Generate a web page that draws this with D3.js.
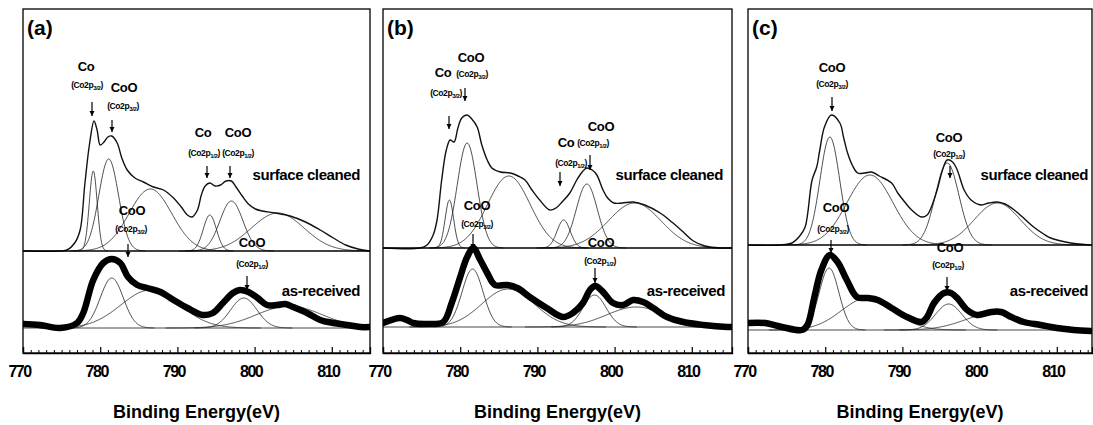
<!DOCTYPE html>
<html lang="en">
<head>
<meta charset="UTF-8">
<title>Co 2p XPS spectra</title>
<script src="https://d3js.org/d3.v7.min.js"></script>
<style>
  body { margin: 0; background: #fff; }
  svg { display: block; }
  text { font-family: "Liberation Sans", Arial, sans-serif; font-weight: bold; fill: #000; }
  .tick text { font-size: 16px; font-weight: bold; letter-spacing: -1.5px; }
</style>
</head>
<body>
<div id="chart"></div>
<script>
const panelNames = ["(a)", "(b)", "(c)"];
const majorTicks = [770, 780, 790, 800, 810];
const xLabel = "Binding Energy(eV)";
const topLabel = "surface cleaned";
const bottomLabel = "as-received";

// measured envelopes, [binding energy eV, intensity a.u.]
const cleanedA = [[770,0],[774.8,0],[775.7,1],[776.7,8],[777.4,21],[778.0,66],[778.6,106],[779.2,130],[779.6,121],[780.0,106],[780.5,109],[781.0,114],[781.5,115],[782.2,108],[782.8,93],[783.5,81],[784.5,73],[785.6,69],[786.9,64],[788.2,61],[789.5,53],[790.5,44],[791.3,36],[791.9,34],[792.6,41],[793.1,56],[793.6,65],[794.2,68],[794.9,65],[795.6,66],[796.3,70],[797.0,70],[797.6,64],[798.4,55],[799.2,47],[800.1,42],[801.0,40],[802.7,38],[804.6,35],[806.6,29],[808.5,21],[810.2,13],[811.8,6],[813.4,2],[815,0]];
const receivedA = [[770,4],[772.2,3],[774.8,0],[777.0,5],[777.8,15],[779.1,48],[780.4,65],[781.5,69],[782.6,65],[783.6,51],[784.8,43],[786.1,40],[787.8,36],[789.5,28],[791.3,20],[793.3,13],[794.6,15],[795.9,25],[797.2,35],[798.1,38],[799.2,36],[800.4,30],[801.6,23],[802.9,23],[804.0,24],[805.0,21],[806.8,15],[808.5,8],[810.2,5],[812.0,3],[813.7,1],[815,1]];

const cleanedB = [[770,0],[774.8,0],[775.7,3],[776.5,13],[777.0,28],[777.6,68],[778.2,98],[778.7,108],[779.2,106],[779.7,120],[780.2,130],[780.9,133],[781.5,129],[782.2,121],[782.8,103],[783.5,88],[784.1,80],[785.2,76],[786.5,75],[787.5,72],[788.4,68],[789.3,58],[790.3,48],[791.6,38],[792.4,40],[793.2,46],[794.2,55],[795.1,68],[795.8,76],[796.4,80],[797.1,78],[797.7,73],[798.5,58],[799.1,50],[799.9,45],[801.0,45],[802.4,46],[803.9,43],[805.9,35],[807.4,26],[808.9,16],[810.2,7],[811.7,2],[813.7,0],[815.2,0]];
const receivedB = [[770,4],[772.2,9],[773.1,7],[773.9,4],[775.7,3],[777.8,5],[778.9,24],[780.0,50],[780.9,70],[781.7,79],[782.6,67],[783.5,54],[784.5,42],[786.1,42],[787.4,39],[789.0,30],[791.2,19],[793.3,10],[794.6,14],[795.9,24],[796.8,37],[797.5,41],[798.5,35],[799.8,24],[801.1,22],[802.4,27],[803.7,25],[805.0,19],[806.8,10],[808.9,5],[811.5,2],[814.6,0],[815.2,0]];

const cleanedC = [[770,0],[774.1,0],[775.7,2],[776.7,9],[777.4,18],[778.3,65],[778.9,78],[779.3,95],[779.9,118],[780.8,130],[781.9,122],[782.4,107],[782.9,92],[783.5,80],[784.2,72],[785.1,72],[786.0,73],[787.0,69],[788.6,62],[789.4,52],[790.3,43],[791.2,35],[792.5,28],[793.2,30],[793.7,37],[794.5,55],[795.2,75],[795.8,85],[796.5,83],[797.1,75],[798.0,55],[798.9,45],[800.2,40],[801.2,42],[802.3,43],[803.3,41],[804.5,35],[805.7,27],[807.0,18],[808.3,11],[809.2,7],[811.8,2],[814.4,0]];
const receivedC = [[770,7],[772.2,7],[774.4,3],[777.0,0],[777.7,5],[778.6,33],[779.5,60],[780.6,75],[781.6,68],[782.8,50],[784.1,33],[785.5,32],[786.8,30],[788.6,22],[790.6,13],[792.5,8],[793.2,13],[794.1,27],[795.4,37],[796.3,37],[797.1,32],[798.4,20],[799.7,15],[801.5,18],[802.8,18],[804.1,13],[805.7,8],[807.9,5],[810.0,2],[812.2,0],[814.4,-1]];

// fitted components, [centre eV, height a.u., FWHM eV]
const peaksCleanedA = [[779.1,80,1.2],[781.1,92,3.0],[786.5,62,6.5],[794.2,36,2.0],[797.0,50,3.5],[803.0,38,8]];
const peaksReceivedA = [[781.5,50,3.5],[786.5,38,9],[798.6,30,4],[804.5,22,10]];
const peaksCleanedB = [[778.6,48,1.3],[780.9,105,3.0],[786.3,72,6.5],[793.4,28,2.0],[796.4,64,3.2],[802.6,45,8]];
const peaksReceivedB = [[781.6,58,3.2],[786.2,38,8],[797.4,32,3.5],[802.8,20,9]];
const peaksCleanedC = [[780.6,108,3.0],[785.8,70,7.0],[795.8,82,3.6],[802.3,42,7]];
const peaksReceivedC = [[780.5,62,3.0],[785.5,32,8],[796.0,26,4],[802.0,17,9]];

const cleaned = [cleanedA, cleanedB, cleanedC];
const received = [receivedA, receivedB, receivedC];
const peaksCleaned = [peaksCleanedA, peaksCleanedB, peaksCleanedC];
const peaksReceived = [peaksReceivedA, peaksReceivedB, peaksReceivedC];

// peak annotations: big = species, small = level; x offset from panel left, y baseline
const notes = [
  [
    {t:"Co", x:63, y:71}, {t:"(Co2p", s:"3/2", x:64, y:88},
    {t:"CoO", x:101, y:92}, {t:"(Co2p", s:"3/2", x:100, y:109},
    {t:"Co", x:180, y:137}, {t:"CoO", x:215, y:137},
    {t:"(Co2p", s:"1/2", x:181, y:156}, {t:"(Co2p", s:"1/2", x:215, y:156},
    {t:"CoO", x:109, y:215}, {t:"(Co2p", s:"3/2", x:108, y:232},
    {t:"CoO", x:229, y:247}, {t:"(Co2p", s:"1/2", x:229, y:267}
  ],
  [
    {t:"CoO", x:88, y:62}, {t:"Co", x:60, y:77}, {t:"(Co2p", s:"3/2", x:89, y:77},
    {t:"(Co2p", s:"3/2", x:63, y:96},
    {t:"CoO", x:218, y:131}, {t:"Co", x:183, y:147}, {t:"(Co2p", s:"1/2", x:210, y:146},
    {t:"(Co2p", s:"1/2", x:188, y:166},
    {t:"CoO", x:94, y:210}, {t:"(Co2p", s:"3/2", x:94, y:227},
    {t:"CoO", x:218, y:247}, {t:"(Co2p", s:"1/2", x:217, y:264}
  ],
  [
    {t:"CoO", x:84, y:72}, {t:"(Co2p", s:"3/2", x:84, y:87},
    {t:"CoO", x:201, y:142}, {t:"(Co2p", s:"1/2", x:201, y:157},
    {t:"CoO", x:88, y:212}, {t:"(Co2p", s:"3/2", x:85, y:232},
    {t:"CoO", x:202, y:252}, {t:"(Co2p", s:"1/2", x:200, y:268}
  ]
];
// arrows: [x offset, y start, y end]
const arrows = [
  [[69,102,116],[89,120,132],[184,166,178],[207,166,178],[105,244,257],[224,276,290]],
  [[82,88,101],[66,116,129],[207,155,170],[177,172,186],[90,234,249],[212,268,283]],
  [[84,97,111],[202,166,178],[83,240,253],[199,277,291]]
];

const layout = [
  {left:23, width:347, divider:251, base:328, topEnd:360, botEnd:360},
  {left:383, width:349, divider:248, base:327, topEnd:723, botEnd:725},
  {left:748, width:344, divider:245, base:330, topEnd:1088, botEnd:1088}
];
const plotTop = 9, plotBottom = 353, pxPerEv = 7.72;

const svg = d3.select("#chart").append("svg")
  .attr("width", 1093).attr("height", 425);

const defs = svg.append("defs");
defs.append("marker")
  .attr("id", "head")
  .attr("markerUnits", "userSpaceOnUse")
  .attr("viewBox", "0 0 6 6")
  .attr("refX", 6).attr("refY", 3)
  .attr("markerWidth", 5).attr("markerHeight", 6)
  .attr("orient", "auto")
  .append("path").attr("d", "M0,0L6,3L0,6Z").attr("fill", "#000");

function gaussian(p) {
  const [c, h, w] = p;
  const pts = [];
  for (let e = c - 1.6 * w; e <= c + 1.6 * w; e += 0.1) {
    pts.push([e, h * Math.exp(-4 * Math.LN2 * (e - c) * (e - c) / (w * w))]);
  }
  return pts;
}

layout.forEach((L, i) => {
  const g = svg.append("g");
  const x = d3.scaleLinear()
    .domain([770, 770 + L.width / pxPerEv])
    .range([L.left, L.left + L.width]);
  const yTop = d3.scaleLinear().domain([0, 100]).range([L.divider, L.divider - 100]);
  const yBot = d3.scaleLinear().domain([0, 100]).range([L.base, L.base - 100]);

  const clipId = "clip" + i;
  defs.append("clipPath").attr("id", clipId)
    .append("rect").attr("x", L.left).attr("y", plotTop)
    .attr("width", L.width).attr("height", plotBottom - plotTop);

  const plot = g.append("g").attr("clip-path", `url(#${clipId})`);
  const lineTop = d3.line().x(d => x(d[0])).y(d => yTop(d[1])).curve(d3.curveCatmullRom.alpha(0.5));
  const lineBot = d3.line().x(d => x(d[0])).y(d => yBot(d[1])).curve(d3.curveCatmullRom.alpha(0.5));

  // baselines
  plot.append("line").attr("x1", L.left).attr("x2", L.left + L.width)
    .attr("y1", L.base).attr("y2", L.base)
    .attr("stroke", "#333").attr("stroke-width", 0.9);

  // components
  plot.selectAll(".pc").data(peaksCleaned[i]).enter().append("path")
    .attr("d", p => lineTop(gaussian(p)))
    .attr("fill", "none").attr("stroke", "#222").attr("stroke-width", 0.8);
  plot.selectAll(".pr").data(peaksReceived[i]).enter().append("path")
    .attr("d", p => lineBot(gaussian(p)))
    .attr("fill", "none").attr("stroke", "#222").attr("stroke-width", 0.8);

  // envelopes
  plot.append("path").datum(cleaned[i]).attr("d", lineTop)
    .attr("fill", "none").attr("stroke", "#111").attr("stroke-width", 1.4);
  plot.append("path").datum(received[i]).attr("d", lineBot)
    .attr("fill", "none").attr("stroke", "#000").attr("stroke-width", 6.5)
    .attr("stroke-linejoin", "round").attr("stroke-linecap", "round");

  // divider
  plot.append("line").attr("x1", L.left).attr("x2", L.left + L.width)
    .attr("y1", L.divider).attr("y2", L.divider)
    .attr("stroke", "#000").attr("stroke-width", 1.3);

  // frame
  g.append("rect").attr("x", L.left).attr("y", plotTop)
    .attr("width", L.width).attr("height", plotBottom - plotTop)
    .attr("fill", "none").attr("stroke", "#000").attr("stroke-width", 1.3);

  // axis with inward ticks
  const minor = d3.range(771, 815).filter(v => v % 10 !== 0);
  g.append("g").attr("transform", `translate(0,${plotBottom})`)
    .call(d3.axisBottom(x).tickValues(minor).tickSize(-3).tickFormat(""))
    .call(a => a.select(".domain").remove());
  const ax = g.append("g").attr("transform", `translate(0,${plotBottom})`)
    .call(d3.axisBottom(x).tickValues(majorTicks).tickSize(-6).tickPadding(13).tickFormat(d3.format("d")));
  ax.select(".domain").attr("stroke-width", 1.3);
  ax.selectAll(".tick line").attr("stroke-width", 1.2);
  ax.selectAll(".tick text").attr("dx", -4);

  g.append("text").attr("x", L.left + L.width / 2).attr("y", 418)
    .attr("text-anchor", "middle").attr("font-size", 18).text(xLabel);

  g.append("text").attr("x", L.left + 4).attr("y", 35)
    .attr("font-size", 21).text(panelNames[i]);

  g.append("text").attr("x", L.topEnd).attr("y", 180)
    .attr("text-anchor", "end")
    .attr("font-size", 15).attr("letter-spacing", -0.4)
    .text(topLabel);
  g.append("text").attr("x", L.botEnd).attr("y", 296)
    .attr("text-anchor", "end")
    .attr("font-size", 15).attr("letter-spacing", -0.4)
    .text(bottomLabel);

  // annotations
  notes[i].forEach(n => {
    const t = g.append("text").attr("x", L.left + n.x).attr("y", n.y)
      .attr("text-anchor", "middle");
    if (n.s) {
      t.attr("font-size", 8.5).attr("font-weight", "normal").attr("letter-spacing", -0.4);
      t.append("tspan").text(n.t);
      t.append("tspan").attr("font-size", 6).attr("dy", 2).text(n.s);
      t.append("tspan").attr("dy", -2).text(")");
    } else {
      t.attr("font-size", 13).attr("letter-spacing", -0.3).text(n.t);
    }
  });

  arrows[i].forEach(a => {
    g.append("line").attr("x1", L.left + a[0]).attr("x2", L.left + a[0])
      .attr("y1", a[1]).attr("y2", a[2])
      .attr("stroke", "#000").attr("stroke-width", 1.2)
      .attr("marker-end", "url(#head)");
  });
});
</script>
</body>
</html>
